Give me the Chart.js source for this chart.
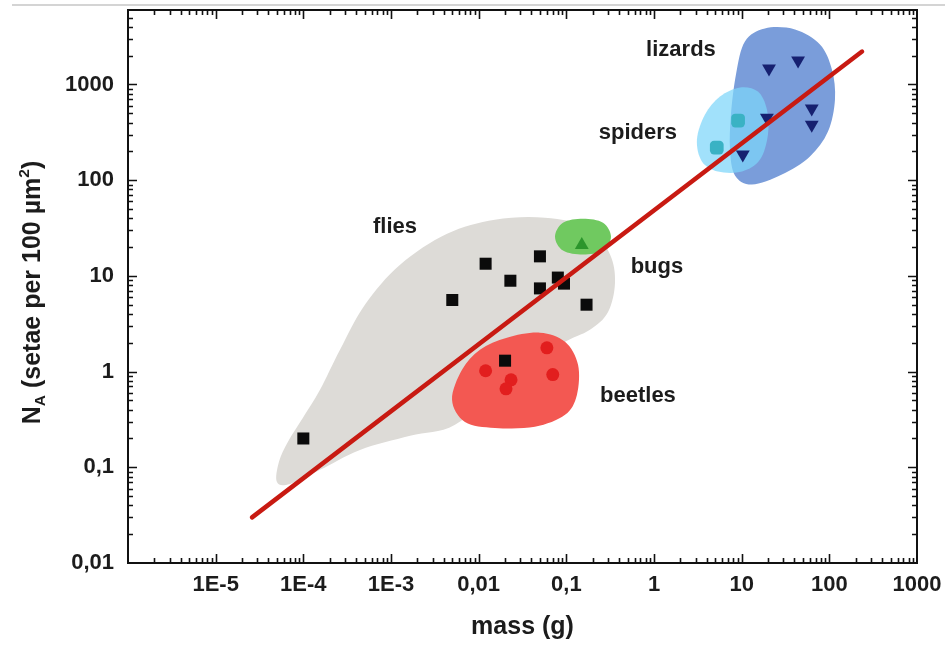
<!DOCTYPE html>
<html>
<head>
<meta charset="utf-8">
<script src="https://cdn.jsdelivr.net/npm/chart.js@4.4.1/dist/chart.umd.min.js"></script>
<style>
  html, body { margin: 0; padding: 0; background: #ffffff; }
  canvas { display: block; }
</style>
</head>
<body>
<canvas id="chart" width="945" height="646"></canvas>
<script>
// ---- axis ticks ----
const xTickValues = [1e-5, 1e-4, 1e-3, 0.01, 0.1, 1, 10, 100, 1000];
const xTickLabels = ['1E-5', '1E-4', '1E-3', '0,01', '0,1', '1', '10', '100', '1000'];
const yTickValues = [0.01, 0.1, 1, 10, 100, 1000];
const yTickLabels = ['0,01', '0,1', '1', '10', '100', '1000'];

// ---- measurements: body mass (g) vs setal density N_A ----
const fliesMass = [0.0001, 0.005, 0.012, 0.023, 0.05, 0.05, 0.08, 0.094, 0.17, 0.02];
const fliesN    = [0.2, 5.6, 13.4, 8.9, 16, 7.4, 9.6, 8.3, 5.0, 1.3];

const beetlesMass = [0.012, 0.06, 0.0234, 0.0205, 0.07];
const beetlesN    = [1.02, 1.77, 0.82, 0.66, 0.93];

const bugsMass = [0.15];
const bugsN    = [21];

const spidersMass = [5.2, 9.1];
const spidersN    = [219, 420];

const lizardsMass = [20.5, 44, 19.4, 63, 63, 10.3];
const lizardsN    = [1470, 1780, 450, 560, 380, 185];

// power-law fit, end points
const fitMass = [2.6e-5, 236];
const fitN    = [0.030, 2210];

// ---- group envelopes (outline vertices in data units) ----
const fliesZoneMass = [5.0e-5, 5.27e-5, 6.68e-5, 9.9e-5, 1.55e-4, 2.62e-4, 5.04e-4, 1.27e-3, 4.36e-3,
                       0.0153, 0.057, 0.186, 0.315, 0.359, 0.299, 0.186, 0.0848, 0.020, 5.37e-3,
                       1.65e-3, 4.43e-4, 1.55e-4, 7.05e-5];
const fliesZoneN    = [0.070, 0.114, 0.185, 0.329, 0.645, 1.69, 5.0, 13.1, 27.6,
                       38.7, 40.6, 31.9, 16.7, 8.5, 4.2, 2.74, 1.91, 0.78, 0.278,
                       0.213, 0.152, 0.094, 0.067];

const beetlesZoneMass = [4.97e-3, 6.46e-3, 0.01035, 0.021, 0.050, 0.0966, 0.136, 0.132, 0.0966, 0.0438, 0.01535, 6.98e-3];
const beetlesZoneN    = [0.507, 1.044, 1.69, 2.26, 2.55, 2.05, 1.18, 0.571, 0.353, 0.265, 0.258, 0.298];

const bugsZoneMass = [0.0743, 0.0916, 0.155, 0.262, 0.323, 0.262, 0.155, 0.0916];
const bugsZoneN    = [25.7, 36.0, 39.6, 36.0, 25.7, 18.4, 16.7, 18.4];

const lizardsZoneMass = [10.9, 18.4, 40.6, 78.2, 107, 116, 96.5, 60.1, 28.8, 13.1, 8.39, 7.36, 7.55, 8.61];
const lizardsZoneN    = [2818, 3854, 3760, 2620, 1435, 697, 322, 177, 114.5, 90, 112, 209, 485, 1273];

const spidersZoneMass = [3.09, 3.82, 5.66, 9.57, 15.3, 19.4, 19.95, 16.2, 10.1, 5.37, 3.52];
const spidersZoneN    = [266, 485, 749, 931, 845, 548, 300, 164, 123, 123, 157];

// ---- group names and where they are written ----
const groupNames     = ['lizards', 'spiders', 'flies', 'bugs', 'beetles'];
const groupLabelMass = [2.03, 0.656, 0.00111, 1.08, 0.656];
const groupLabelN    = [2323, 315, 32.7, 12.5, 0.558];

const FONT = '"Liberation Sans", Arial, Helvetica, sans-serif';
const INK = '#1c1c1c';

function pairs(xs, ys) { return xs.map((x, i) => ({ x: x, y: ys[i] })); }

// smooth closed outline through the vertices (Catmull-Rom -> Bezier)
function closedSpline(ctx, pts) {
  const n = pts.length;
  ctx.beginPath();
  ctx.moveTo(pts[0][0], pts[0][1]);
  for (let i = 0; i < n; i++) {
    const p0 = pts[(i - 1 + n) % n], p1 = pts[i], p2 = pts[(i + 1) % n], p3 = pts[(i + 2) % n];
    const c1x = p1[0] + (p2[0] - p0[0]) / 6, c1y = p1[1] + (p2[1] - p0[1]) / 6;
    const c2x = p2[0] - (p3[0] - p1[0]) / 6, c2y = p2[1] - (p3[1] - p1[1]) / 6;
    ctx.bezierCurveTo(c1x, c1y, c2x, c2y, p2[0], p2[1]);
  }
  ctx.closePath();
}

const zones = [
  { mass: fliesZoneMass,   n: fliesZoneN,   fill: 'rgb(221,219,215)' },
  { mass: beetlesZoneMass, n: beetlesZoneN, fill: 'rgb(243,88,82)' },
  { mass: bugsZoneMass,    n: bugsZoneN,    fill: 'rgb(112,201,96)' },
  { mass: lizardsZoneMass, n: lizardsZoneN, fill: 'rgb(122,157,218)' },
  { mass: spidersZoneMass, n: spidersZoneN, fill: 'rgba(125,214,250,0.72)' }
];

const backdrop = {
  id: 'backdrop',
  beforeDraw(chart) {
    const ctx = chart.ctx;
    ctx.save();
    ctx.fillStyle = '#ffffff';
    ctx.fillRect(0, 0, chart.width, chart.height);
    ctx.fillStyle = 'rgb(212,212,212)';
    ctx.fillRect(12, 4, chart.width - 12, 2);
    ctx.restore();
  }
};

const envelopes = {
  id: 'envelopes',
  beforeDatasetsDraw(chart) {
    const { ctx, scales: { x, y } } = chart;
    ctx.save();
    zones.forEach(z => {
      const pts = z.mass.map((m, i) => [x.getPixelForValue(m), y.getPixelForValue(z.n[i])]);
      closedSpline(ctx, pts);
      ctx.fillStyle = z.fill;
      ctx.fill();
    });
    ctx.restore();
  }
};

function logTicks(min, max) {
  const out = [];
  for (let d = Math.floor(Math.log10(min)); d <= Math.ceil(Math.log10(max)); d++) {
    for (let k = 1; k <= 9; k++) {
      const v = k * Math.pow(10, d);
      if (v >= min * 1.0001 && v <= max / 1.0001) out.push({ v: v, major: k === 1 });
    }
  }
  return out;
}

const frame = {
  id: 'frame',
  afterDraw(chart) {
    const { ctx, chartArea: a, scales: { x, y } } = chart;
    ctx.save();
    ctx.strokeStyle = '#111111';
    ctx.lineWidth = 1.6;
    ctx.beginPath();
    logTicks(x.min, x.max).forEach(t => {
      const px = Math.round(x.getPixelForValue(t.v)) + 0.5;
      const len = t.major ? 9 : 5;
      ctx.moveTo(px, a.bottom); ctx.lineTo(px, a.bottom - len);
      ctx.moveTo(px, a.top); ctx.lineTo(px, a.top + len);
    });
    logTicks(y.min, y.max).forEach(t => {
      const py = Math.round(y.getPixelForValue(t.v)) + 0.5;
      const len = t.major ? 9 : 5;
      ctx.moveTo(a.left, py); ctx.lineTo(a.left + len, py);
      ctx.moveTo(a.right, py); ctx.lineTo(a.right - len, py);
    });
    ctx.stroke();
    ctx.lineWidth = 2;
    ctx.strokeRect(a.left, a.top, a.right - a.left, a.bottom - a.top);
    ctx.restore();
  }
};

const groupLabels = {
  id: 'groupLabels',
  afterDatasetsDraw(chart) {
    const { ctx, scales: { x, y } } = chart;
    ctx.save();
    ctx.fillStyle = INK;
    ctx.font = 'bold 22px ' + FONT;
    ctx.textAlign = 'center';
    ctx.textBaseline = 'middle';
    groupNames.forEach((name, i) => {
      ctx.fillText(name, x.getPixelForValue(groupLabelMass[i]), y.getPixelForValue(groupLabelN[i]));
    });
    ctx.restore();
  }
};

// vertical axis title with subscript and superscript
const yTitle = {
  id: 'yTitle',
  afterDraw(chart) {
    const { ctx, chartArea: a } = chart;
    const size = 25;
    const segs = [
      { t: 'N', s: 1, dy: 0 },
      { t: 'A', s: 0.62, dy: 0.2 },
      { t: ' (setae per 100 ', s: 1, dy: 0 },
      { t: '\u00b5m', s: 1, dy: 0 },
      { t: '2', s: 0.62, dy: -0.45 },
      { t: ')', s: 1, dy: 0 }
    ];
    ctx.save();
    let total = 0;
    segs.forEach(g => {
      ctx.font = 'bold ' + (size * g.s) + 'px ' + FONT;
      g.w = ctx.measureText(g.t).width;
      total += g.w;
    });
    ctx.translate(40, (a.top + a.bottom) / 2 + 6);
    ctx.rotate(-Math.PI / 2);
    ctx.fillStyle = INK;
    ctx.textBaseline = 'alphabetic';
    ctx.textAlign = 'left';
    let cx = -total / 2;
    segs.forEach(g => {
      ctx.font = 'bold ' + (size * g.s) + 'px ' + FONT;
      ctx.fillText(g.t, cx, g.dy * size);
      cx += g.w;
    });
    ctx.restore();
  }
};

new Chart(document.getElementById('chart').getContext('2d'), {
  type: 'scatter',
  data: {
    datasets: [
      {
        label: 'fit',
        data: pairs(fitMass, fitN),
        showLine: true,
        borderColor: 'rgb(200,26,18)',
        borderWidth: 4.5,
        borderCapStyle: 'round',
        pointRadius: 0,
        order: -1
      },
      {
        label: 'flies',
        data: pairs(fliesMass, fliesN),
        pointStyle: 'rect',
        pointRadius: 8.5,
        backgroundColor: '#0b0b0b',
        borderWidth: 0
      },
      {
        label: 'beetles',
        data: pairs(beetlesMass, beetlesN),
        pointStyle: 'circle',
        pointRadius: 6.5,
        backgroundColor: 'rgb(226,30,30)',
        borderWidth: 0
      },
      {
        label: 'bugs',
        data: pairs(bugsMass, bugsN),
        pointStyle: 'triangle',
        pointRadius: 8,
        backgroundColor: 'rgb(44,150,44)',
        borderWidth: 0
      },
      {
        label: 'spiders',
        data: pairs(spidersMass, spidersN),
        pointStyle: 'rectRounded',
        pointRadius: 8,
        backgroundColor: 'rgb(58,178,196)',
        borderWidth: 0
      },
      {
        label: 'lizards',
        data: pairs(lizardsMass, lizardsN),
        pointStyle: 'triangle',
        rotation: 180,
        pointRadius: 8,
        backgroundColor: 'rgb(22,32,112)',
        borderWidth: 0
      }
    ]
  },
  options: {
    responsive: false,
    animation: false,
    devicePixelRatio: 1,
    layout: { padding: { top: 10, right: 28, bottom: 0, left: 0 } },
    plugins: { legend: { display: false }, tooltip: { enabled: false } },
    elements: { point: { hoverRadius: 0 } },
    scales: {
      x: {
        type: 'logarithmic',
        position: 'bottom',
        min: 1e-6,
        max: 1000,
        grid: { display: false, drawTicks: false },
        border: { display: false },
        afterBuildTicks: s => { s.ticks = xTickValues.map(v => ({ value: v })); },
        afterFit: s => { s.height = 83; s.paddingLeft = 0; s.paddingRight = 0; },
        ticks: {
          autoSkip: false,
          maxRotation: 0,
          padding: 9,
          color: INK,
          font: { family: FONT, size: 22, weight: 'bold' },
          callback: (v, i) => xTickLabels[i]
        },
        title: {
          display: true,
          text: 'mass (g)',
          color: INK,
          padding: { top: 0, bottom: 4 },
          font: { family: FONT, size: 25, weight: 'bold' }
        }
      },
      y: {
        type: 'logarithmic',
        position: 'left',
        min: 0.01,
        max: 6000,
        grid: { display: false, drawTicks: false },
        border: { display: false },
        afterBuildTicks: s => { s.ticks = yTickValues.map(v => ({ value: v })); },
        afterFit: s => { s.width = 128; s.paddingTop = 0; s.paddingBottom = 0; },
        ticks: {
          autoSkip: false,
          padding: 14,
          color: INK,
          font: { family: FONT, size: 22, weight: 'bold' },
          callback: (v, i) => yTickLabels[i]
        }
      }
    }
  },
  plugins: [backdrop, envelopes, groupLabels, frame, yTitle]
});
</script>
</body>
</html>
